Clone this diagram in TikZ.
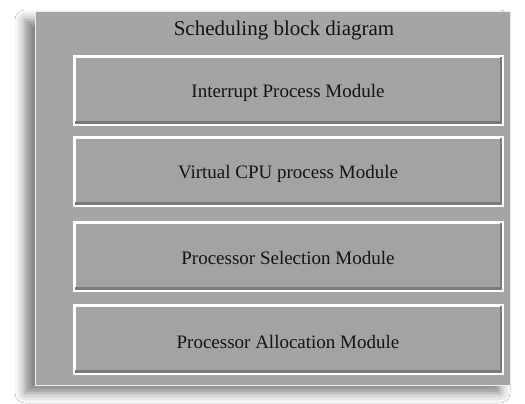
\documentclass[tikz,border=0pt]{standalone}
\usepackage{fontspec}
\setmainfont{Liberation Serif}
\usetikzlibrary{shadows.blur}
\definecolor{panel}{HTML}{A5A5A5}
\definecolor{boxfill}{HTML}{A3A3A3}
\definecolor{bevel}{HTML}{7A7A7A}
\tikzset{
  outerpanel/.style={fill=panel, draw=white!80!panel, line width=1pt,
    blur shadow={shadow xshift=-10pt, shadow yshift=-8pt, shadow blur radius=10pt, shadow opacity=50}},
  modbox/.style={draw=white, line width=2pt, fill=boxfill, minimum width=427pt, minimum height=67pt,
    inner sep=0pt},
  modtext/.style={font=\fontsize{19}{21}\selectfont, text=black!92},
  titletext/.style={font=\fontsize{21}{23}\selectfont, text=black!92}
}
\begin{document}
\begin{tikzpicture}[x=1pt,y=-1pt]
\useasboundingbox (0,0) rectangle (525,404);
\fill[white] (0,0) rectangle (525,404);
\node[outerpanel, minimum width=475pt, minimum height=373pt, inner sep=0pt] (panel) at (272.5,198.5) {};
\node[titletext] (title) at (284,30) {Scheduling block diagram};
\foreach \n/\y/\t in {m1/90.5/Interrupt Process Module, m2/171.5/Virtual CPU process Module, m3/256/Processor Selection Module, m4/339.5/Processor Allocation Module}{
  \node[modbox] (\n) at (288,\y) {};
  \fill[bevel] ([xshift=1pt,yshift=1pt]\n.south west) rectangle ([xshift=-1pt,yshift=4pt]\n.south east);
  \fill[bevel] ([xshift=-1pt,yshift=-1pt]\n.north east) rectangle ([xshift=-3pt,yshift=1pt]\n.south east);
  \draw[white, line width=2pt] (\n.north west) rectangle (\n.south east);
  \node[modtext] (\n t) at ([yshift=-2pt]\n.center) {\t};
}
\end{tikzpicture}
\end{document}
